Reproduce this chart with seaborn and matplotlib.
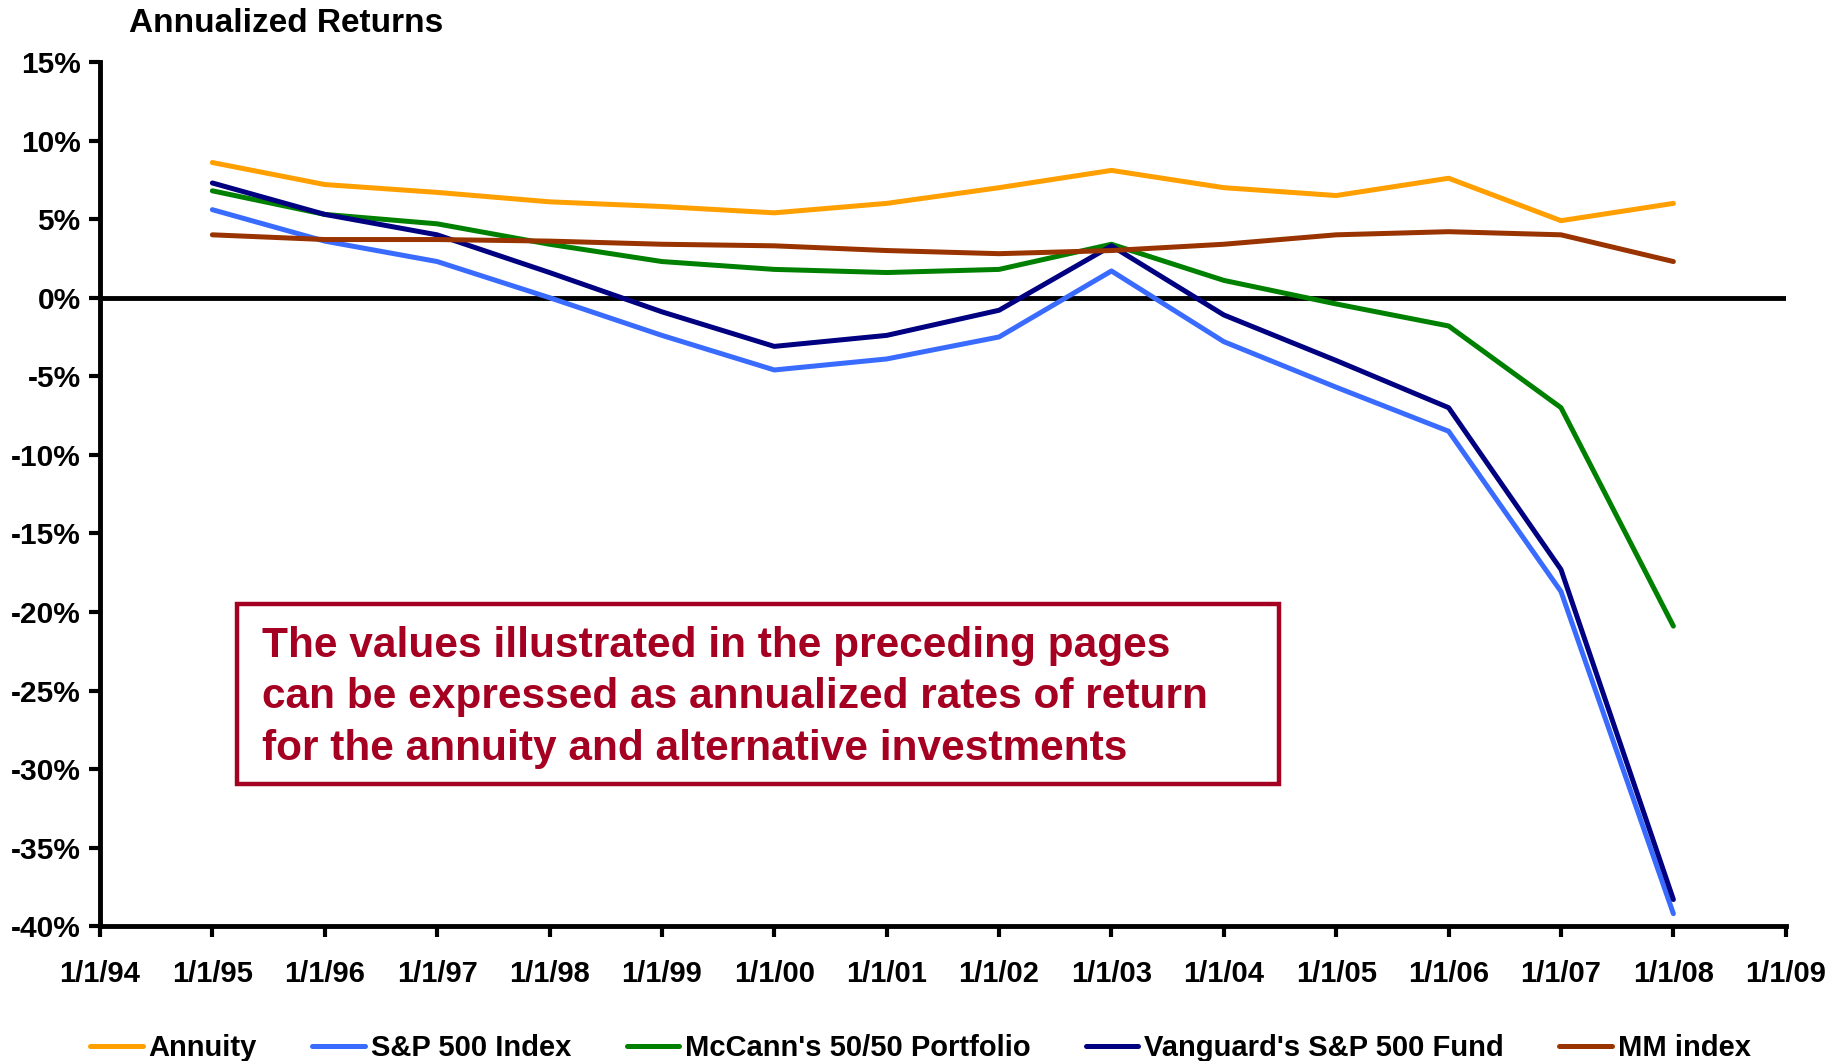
import pandas as pd
import matplotlib.pyplot as plt
import seaborn as sns
from matplotlib.patches import Rectangle

sns.set_theme(style='white')
plt.rcParams['font.family'] = ['Liberation Sans', 'DejaVu Sans']
plt.rcParams['font.weight'] = 'bold'
plt.rcParams['text.color'] = 'black'
plt.rcParams['xtick.color'] = 'black'
plt.rcParams['ytick.color'] = 'black'

# 数据：年份与各投资的年化收益率（%）
years = list(range(1995, 2009))
annuity = [8.6, 7.2, 6.7, 6.1, 5.8, 5.4, 6.0, 7.0, 8.1, 7.0, 6.5, 7.6, 4.9, 6.0]
sp500_index = [5.6, 3.6, 2.3, 0.0, -2.4, -4.6, -3.9, -2.5, 1.7, -2.8, -5.7, -8.5, -18.7, -39.2]
mccann = [6.8, 5.3, 4.7, 3.4, 2.3, 1.8, 1.6, 1.8, 3.4, 1.1, -0.4, -1.8, -7.0, -20.9]
vanguard = [7.3, 5.3, 4.0, 1.6, -0.9, -3.1, -2.4, -0.8, 3.3, -1.1, -4.0, -7.0, -17.3, -38.3]
mm_index = [4.0, 3.7, 3.7, 3.6, 3.4, 3.3, 3.0, 2.8, 3.0, 3.4, 4.0, 4.2, 4.0, 2.3]

series_names = ['Annuity', 'S&P 500 Index', "McCann's 50/50 Portfolio",
                "Vanguard's S&P 500 Fund", 'MM index']
series_colors = ['#FF9F00', '#3A6BFF', '#008000', '#000080', '#993300']
tick_years = list(range(1994, 2010))
tick_labels = ['1/1/%02d' % (y % 100) for y in tick_years]
y_ticks = list(range(-40, 20, 5))

frames = []
for name, vals in zip(series_names, [annuity, sp500_index, mccann, vanguard, mm_index]):
    frames.append(pd.DataFrame({'year': years, 'ret': vals, 'series': name}))
df = pd.concat(frames, ignore_index=True)

fig = plt.figure(figsize=(18.41, 10.61), dpi=100)
ax = fig.add_axes([0.0543, 0.127, 0.9157, 0.8146])

ax.axhline(0, color='black', lw=3.5, zorder=1, solid_capstyle='round')
sns.lineplot(data=df, x='year', y='ret', hue='series', hue_order=series_names,
             palette=series_colors, lw=3.6, ax=ax, zorder=2, legend=True)

ax.set_xlim(1994, 2009)
ax.set_ylim(-40, 15)
ax.set_xticks(tick_years)
ax.set_xticklabels(tick_labels, fontsize=21, fontweight='bold')
ax.set_yticks(y_ticks)
ax.set_yticklabels(['%d%%' % v for v in y_ticks], fontsize=21.5, fontweight='bold')
ax.set_xlabel('')
ax.set_ylabel('')
for side in ['top', 'right']:
    ax.spines[side].set_visible(False)
for side in ['left', 'bottom']:
    ax.spines[side].set_color('black')
    ax.spines[side].set_linewidth(3.5)
ax.tick_params(axis='both', direction='out', length=8, width=3, color='black', pad=6, left=True, bottom=True)
ax.tick_params(axis='x', pad=16)

handles, labels = ax.get_legend_handles_labels()
ax.get_legend().remove()
leg = fig.legend(handles, labels, loc='center', bbox_to_anchor=(0.500, 0.012), ncol=5,
                 frameon=False, handlelength=1.8, handletextpad=0.2,
                 columnspacing=1.9, prop={'weight': 'bold', 'size': 21})
for line in leg.get_lines():
    line.set_linewidth(3.6)

fig.text(0.070, 0.978, 'Annualized Returns', fontsize=24, fontweight='bold', va='center', ha='left')

crimson = '#A50021'
fig.patches.append(Rectangle((0.129, 0.2613), 0.5655, 0.169, transform=fig.transFigure,
                             fill=False, edgecolor=crimson, lw=3.2))
fig.text(0.1423, 0.3427,
         'The values illustrated in the preceding pages\n'
         'can be expressed as annualized rates of return\n'
         'for the annuity and alternative investments',
         fontsize=30.5, fontweight='bold', color=crimson, va='center', ha='left', linespacing=1.36)

fig.savefig('out.png', dpi=100)
